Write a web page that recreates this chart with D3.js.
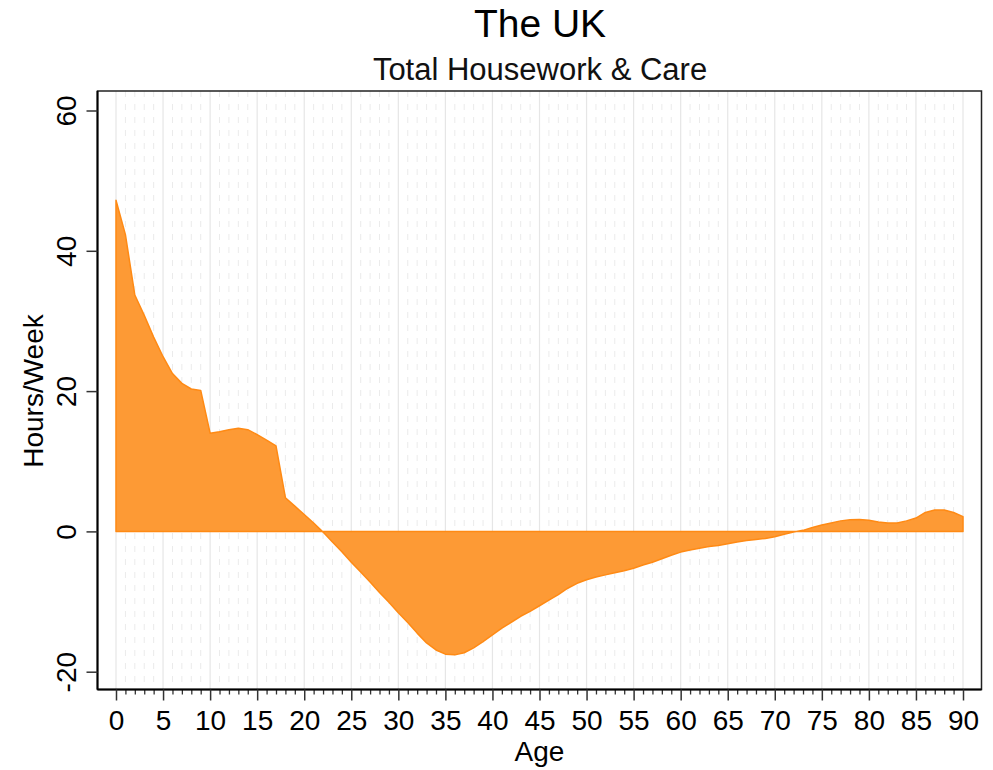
<!DOCTYPE html>
<html>
<head>
<meta charset="utf-8">
<script src="https://cdn.jsdelivr.net/npm/d3@7"></script>
<style>
  html, body { margin: 0; padding: 0; background: #fff; }
  svg { display: block; font-family: "Liberation Sans", Arial, sans-serif; }
</style>
</head>
<body>
<svg id="chart" width="993" height="770"></svg>
<script>
// ---- Data ----
const ages = d3.range(0, 91);
const hoursPerWeek = [
  47.2, 42.3, 33.7, 30.8, 27.7, 24.9, 22.5, 21.1, 20.3, 20.1,
  14.0, 14.2, 14.5, 14.7, 14.5, 13.8, 13.0, 12.2, 4.8, 3.6,
  2.4, 1.2, -0.1, -1.5, -2.9, -4.4, -5.8, -7.2, -8.7, -10.1,
  -11.6, -13.0, -14.5, -15.9, -16.9, -17.5, -17.6, -17.3, -16.6, -15.7,
  -14.75, -13.8, -12.95, -12.1, -11.4, -10.6, -9.8, -9.0, -8.1, -7.4,
  -6.9, -6.5, -6.2, -5.9, -5.6, -5.25, -4.8, -4.4, -3.9, -3.4,
  -2.95, -2.65, -2.4, -2.15, -2.0, -1.75, -1.5, -1.3, -1.15, -1.0,
  -0.75, -0.4, -0.1, 0.15, 0.55, 0.9, 1.2, 1.5, 1.65, 1.7,
  1.6, 1.35, 1.2, 1.2, 1.5, 1.9, 2.7, 3.05, 3.05, 2.7,
  2.1
];
const xMajorTicks = d3.range(0, 91, 5);
const xMinorTicks = d3.range(0, 91, 1);
const yTicks = [-20, 0, 20, 40, 60];

const titleText = "The UK";
const subtitleText = "Total Housework & Care";
const xTitle = "Age";
const yTitle = "Hours/Week";

// ---- Layout ----
const svg = d3.select("#chart");
const frame = { left: 97.5, right: 981.5, top: 91, bottom: 689.5 };
const x = d3.scaleLinear().domain([0, 90]).range([116, 963]);
const y = d3.scaleLinear().domain([-20, 60]).range([671.7, 110.5]);
const fmt = d => String(d);

// Titles
svg.append("text").attr("x", 540).attr("y", 37)
  .attr("text-anchor", "middle").attr("font-size", 39).attr("fill", "#000")
  .text(titleText);
svg.append("text").attr("x", 540).attr("y", 80)
  .attr("text-anchor", "middle").attr("font-size", 31).attr("fill", "#111")
  .text(subtitleText);

// Grid lines (vertical)
const grid = svg.append("g");
grid.selectAll("line.minor").data(xMinorTicks.filter(d => d % 5 !== 0)).enter()
  .append("line").attr("class", "minor")
  .attr("x1", d => x(d)).attr("x2", d => x(d))
  .attr("y1", frame.top).attr("y2", frame.bottom)
  .attr("stroke", "#ebebeb").attr("stroke-width", 1)
  .attr("stroke-dasharray", "6,7");
grid.selectAll("line.major").data(xMajorTicks).enter()
  .append("line").attr("class", "major")
  .attr("x1", d => x(d)).attr("x2", d => x(d))
  .attr("y1", frame.top).attr("y2", frame.bottom)
  .attr("stroke", "#e6e6e6").attr("stroke-width", 1.2);

// Area
const data = ages.map((a, i) => ({ age: a, v: hoursPerWeek[i] }));
const area = d3.area().x(d => x(d.age)).y0(y(0)).y1(d => y(d.v)).curve(d3.curveLinear);
svg.append("path").datum(data)
  .attr("d", area)
  .attr("fill", "#fd9a35")
  .attr("stroke", "#ff8a14")
  .attr("stroke-width", 1.5)
  .attr("stroke-linejoin", "round");

// Frame
svg.append("rect")
  .attr("x", frame.left).attr("y", frame.top)
  .attr("width", frame.right - frame.left).attr("height", frame.bottom - frame.top)
  .attr("fill", "none").attr("stroke", "#222").attr("stroke-width", 1.5);

// Y axis
const yAxis = d3.axisLeft(y).tickValues(yTicks).tickSize(11).tickFormat(fmt);
const gy = svg.append("g").attr("transform", `translate(${frame.left},0)`).call(yAxis);
gy.select(".domain").attr("stroke", "#000").attr("stroke-width", 2)
  .attr("d", `M0,${frame.top}V${frame.bottom}`);
gy.selectAll(".tick line").attr("stroke", "#333").attr("stroke-width", 1.5);
gy.selectAll(".tick text")
  .attr("font-size", 28).attr("fill", "#000")
  .attr("x", null).attr("dy", null)
  .attr("text-anchor", "middle")
  .attr("transform", "translate(-21.5,0) rotate(-90)");

// X axis minor ticks
const xMinorAxis = d3.axisBottom(x).tickValues(xMinorTicks.filter(d => d % 5 !== 0)).tickSize(5).tickFormat("");
const gxm = svg.append("g").attr("transform", `translate(0,${frame.bottom})`).call(xMinorAxis);
gxm.select(".domain").remove();
gxm.selectAll(".tick line").attr("stroke", "#333").attr("stroke-width", 1.3);

// X axis major
const xAxis = d3.axisBottom(x).tickValues(xMajorTicks).tickSize(11).tickFormat(fmt);
const gx = svg.append("g").attr("transform", `translate(0,${frame.bottom})`).call(xAxis);
gx.select(".domain").attr("stroke", "#000").attr("stroke-width", 2)
  .attr("d", `M${frame.left},0H${frame.right}`);
gx.selectAll(".tick line").attr("stroke", "#333").attr("stroke-width", 1.5);
gx.selectAll(".tick text")
  .attr("font-size", 28).attr("fill", "#000")
  .attr("y", 40.5).attr("dy", null);

// Axis titles
svg.append("text").attr("x", 539.5).attr("y", 761)
  .attr("text-anchor", "middle").attr("font-size", 28).attr("fill", "#000")
  .text(xTitle);
svg.append("text")
  .attr("transform", "translate(43,391) rotate(-90)")
  .attr("text-anchor", "middle").attr("font-size", 28).attr("fill", "#000")
  .text(yTitle);
</script>
</body>
</html>
